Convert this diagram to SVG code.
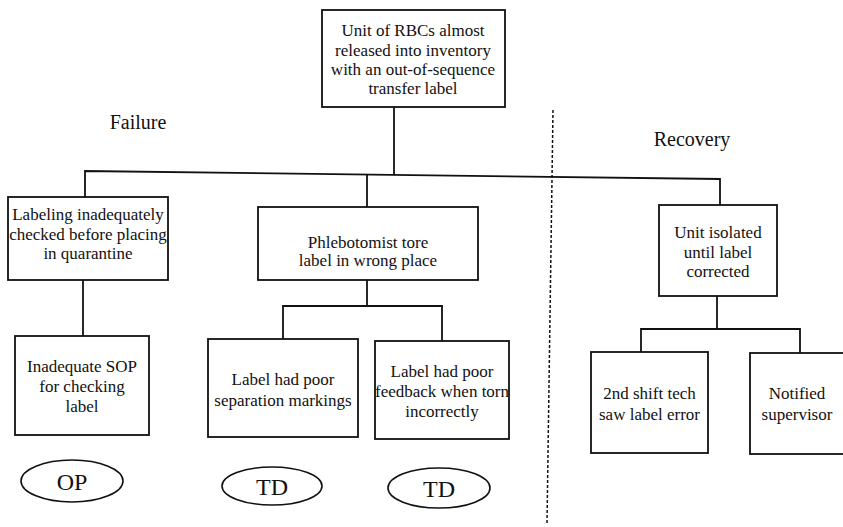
<svg xmlns="http://www.w3.org/2000/svg" width="843" height="527" viewBox="0 0 843 527" font-family="'Liberation Serif', 'DejaVu Serif', serif">
<style>
  .box { fill: #ffffff; stroke: #111111; stroke-width: 1.8; }
  .oval { fill: #ffffff; stroke: #111111; stroke-width: 1.6; }
  text { font-family: 'Liberation Serif', 'DejaVu Serif', serif; fill: #111111; text-anchor: middle; }
  .t { font-size: 17px; }
  .h { font-size: 20px; }
  .c { font-size: 24px; }
  .ln { fill: none; stroke: #111111; stroke-width: 1.8; }
  .dash { fill: none; stroke: #111111; stroke-width: 1.5; stroke-dasharray: 3 2; }
</style>
<rect width="843" height="527" fill="#ffffff"/>

<g id="connectors">
  <line class="ln" x1="394" y1="107" x2="394" y2="175"/>
  <polyline class="ln" points="85,197 85,171 720,179 720,205"/>
  <line class="ln" x1="367" y1="175" x2="367" y2="207"/>
  <line class="ln" x1="83" y1="280" x2="83" y2="336"/>
  <line class="ln" x1="367" y1="280" x2="367" y2="306"/>
  <polyline class="ln" points="283,339 283,306 442,306 442,341"/>
  <line class="ln" x1="717" y1="296" x2="717" y2="329"/>
  <polyline class="ln" points="641,352 641,329 800,329 800,353"/>
  <line class="dash" x1="553" y1="110" x2="547" y2="523"/>
</g>

<g id="label-failure"><text class="h" x="138" y="129">Failure</text></g>
<g id="label-recovery"><text class="h" x="692" y="146">Recovery</text></g>

<g id="top">
  <rect class="box" x="322" y="10" width="183" height="97"/>
  <text class="t" x="413" y="36">Unit of RBCs almost</text>
  <text class="t" x="413" y="56">released into inventory</text>
  <text class="t" x="413" y="75">with an out-of-sequence</text>
  <text class="t" x="413" y="94">transfer label</text>
</g>

<g id="labeling">
  <rect class="box" x="8" y="197" width="160" height="83"/>
  <text class="t" x="88" y="220">Labeling inadequately</text>
  <text class="t" x="88" y="240">checked before placing</text>
  <text class="t" x="88" y="259">in quarantine</text>
</g>

<g id="phlebotomist">
  <rect class="box" x="258" y="207" width="220" height="73"/>
  <text class="t" x="368" y="248">Phlebotomist tore</text>
  <text class="t" x="368" y="266">label in wrong place</text>
</g>

<g id="unit-isolated">
  <rect class="box" x="659" y="205" width="118" height="91"/>
  <text class="t" x="718" y="238">Unit isolated</text>
  <text class="t" x="718" y="258">until label</text>
  <text class="t" x="718" y="277">corrected</text>
</g>

<g id="sop">
  <rect class="box" x="15" y="336" width="134" height="99"/>
  <text class="t" x="82" y="372">Inadequate SOP</text>
  <text class="t" x="82" y="392">for checking</text>
  <text class="t" x="82" y="412">label</text>
</g>

<g id="separation">
  <rect class="box" x="208" y="339" width="150" height="98"/>
  <text class="t" x="283" y="385">Label had poor</text>
  <text class="t" x="283" y="406">separation markings</text>
</g>

<g id="feedback">
  <rect class="box" x="375" y="341" width="134" height="98"/>
  <text class="t" x="442" y="377">Label had poor</text>
  <text class="t" x="442" y="397">feedback when torn</text>
  <text class="t" x="442" y="417">incorrectly</text>
</g>

<g id="second-shift">
  <rect class="box" x="591" y="352" width="117" height="101"/>
  <text class="t" x="649.5" y="399">2nd shift tech</text>
  <text class="t" x="649.5" y="420">saw label error</text>
</g>

<g id="notified">
  <rect class="box" x="750" y="353" width="100" height="101"/>
  <text class="t" x="797" y="399">Notified</text>
  <text class="t" x="797" y="420">supervisor</text>
</g>

<g id="op">
  <ellipse class="oval" cx="72" cy="481" rx="51" ry="21"/>
  <text class="c" x="72" y="490">OP</text>
</g>
<g id="td1">
  <ellipse class="oval" cx="272" cy="486" rx="50" ry="19"/>
  <text class="c" x="272" y="495">TD</text>
</g>
<g id="td2">
  <ellipse class="oval" cx="439" cy="488" rx="51" ry="20"/>
  <text class="c" x="439" y="497">TD</text>
</g>
</svg>
